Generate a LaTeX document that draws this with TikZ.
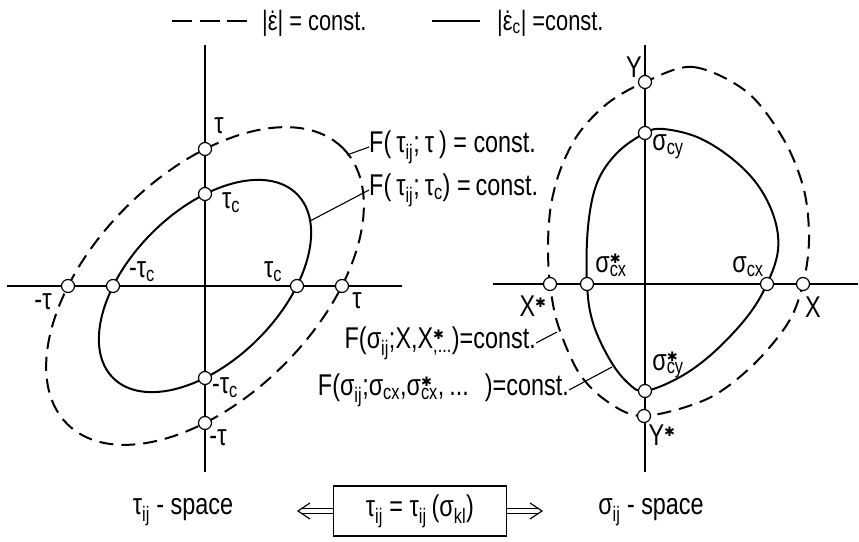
\documentclass[tikz,border=0pt]{standalone}
\usepackage{fontspec}
\setmainfont{Liberation Sans}[FakeStretch=0.78]
\newfontfamily\djv{DejaVu Sans}
\usetikzlibrary{arrows.meta}
\newcommand\ssc[2]{\makebox[0pt][l]{\textsuperscript{#1}}\textsubscript{#2}}
\newcommand\st{{\djv\fontsize{13}{13}\selectfont ✱}}
\newcommand\dotover[1]{\leavevmode\ooalign{#1\cr\hidewidth\smash{\raisebox{0.58em}{\fontsize{24}{24}\selectfont .}}\hidewidth\cr}}
\begin{document}
\begin{tikzpicture}[x=1pt,y=-1pt,
  axis/.style={line width=1.1pt},
  curve/.style={line width=2pt},
  dcurve/.style={line width=2pt, dash pattern=on 14pt off 8pt},
  pt/.style={circle, draw, fill=white, line width=1.2pt, minimum size=13pt, inner sep=0pt},
  lbl/.style={font=\fontsize{30}{34}\selectfont, inner sep=0pt},
  leader/.style={line width=1.1pt},
  arr/.style={line width=1.2pt, line join=miter}]
\useasboundingbox (0,0) rectangle (859,541);
% legend
\coordinate (d1) at (172,21); \coordinate (d2) at (247,21);
\draw[line width=2pt, dash pattern=on 20pt off 7.5pt] (d1) -- (d2);
\node[lbl, anchor=west, font=\fontsize{28}{32}\selectfont] (leg1) at (262,23) {|\dotover{ε}| = const.};
\coordinate (s1) at (432,21); \coordinate (s2) at (480,21);
\draw[line width=2pt] (s1) -- (s2);
\node[lbl, anchor=west, font=\fontsize{28}{32}\selectfont] (leg2) at (497,23) {|\dotover{ε}\textsubscript{c}| =const.};
% ---------- left diagram ----------
\coordinate (O1) at (205,286);
\coordinate (a1t) at (205,45); \coordinate (a1b) at (205,472);
\coordinate (a1l) at (7,286); \coordinate (a1r) at (402,286);
\draw[axis] (a1t) -- (a1b);
\draw[axis] (a1l) -- (a1r);
\draw[dcurve, rotate around={45:(O1)}] (O1) ellipse [x radius=195pt, y radius=111.5pt];
\draw[curve, rotate around={45:(O1)}] (O1) ellipse [x radius=130pt, y radius=75pt];
\coordinate (c1) at (347,155);
\coordinate (c2) at (310,221);
\node[lbl, anchor=west] (F1) at (369,147) {F(\,τ\textsubscript{ij};\,τ\,) = const.};
\node[lbl, anchor=west] (F2) at (369,190) {F(\,τ\textsubscript{ij};\,τ\textsubscript{c}) =\,const.};
\draw[leader] (c1) -- (F1.west);
\draw[leader] (c2) -- (F2.west);
\node[pt] (p1) at (205,149) {};
\node[pt] (p2) at (205,194) {};
\node[pt] (p3) at (68,286) {};
\node[pt] (p4) at (113,286) {};
\node[pt] (p5) at (297,286) {};
\node[pt] (p6) at (342,286) {};
\node[pt] (p7) at (205,378) {};
\node[pt] (p8) at (205,423) {};
\node[lbl] (lt) at (219,126) {τ};
\node[lbl] (ltc) at (231,203) {τ\textsubscript{c}};
\node[lbl] (lmtc) at (142,272) {-τ\textsubscript{c}};
\node[lbl] (lrtc) at (273,272) {τ\textsubscript{c}};
\node[lbl] (lrt) at (357,301) {τ};
\node[lbl] (llt) at (43,302) {-τ};
\node[lbl] (lbtc) at (225,388) {-τ\textsubscript{c}};
\node[lbl] (lbt) at (218,438) {-τ};
% ---------- right diagram ----------
\coordinate (a2t) at (645,45); \coordinate (a2b) at (645,472);
\coordinate (a2l) at (493,284); \coordinate (a2r) at (858,284);
\draw[axis] (a2t) -- (a2b);
\draw[axis] (a2l) -- (a2r);
\draw[dcurve] plot[smooth cycle, tension=0.55] coordinates {
 (645,82) (693,67) (747,92) (784,140) (804,190) (809,240) (803,284)
 (788,323) (752,366) (707,399) (644,416) (608,402) (579,373) (558,325)
 (550,284) (548,245) (551,205) (561,168) (579,133) (608,103)};
\draw[curve] plot[smooth cycle, tension=0.6] coordinates {
 (645,133) (663,129) (697,137) (730,157) (757,184) (774,217) (778,250)
 (767,284) (747,317) (713,353) (680,377) (645,391) (628,383) (610,360)
 (593,323) (587,284) (588,227) (597,183) (617,153)};
\coordinate (c3) at (557,332);
\coordinate (c4) at (612,367);
\node[lbl, anchor=east] (F3) at (536,343) {F(σ\textsubscript{ij};X,X\ssc{\st}{,...})=const.};
\node[lbl, anchor=east] (F4) at (569,390) {F(σ\textsubscript{ij};σ\textsubscript{cx},σ\ssc{\st}{cx},\,...\hspace{16pt})=const.};
\draw[leader] (F3.east) -- (c3);
\draw[leader] (F4.east) -- (c4);
\node[pt] (q1) at (645,82) {};
\node[pt] (q2) at (645,133) {};
\node[pt] (q3) at (550,284) {};
\node[pt] (q4) at (587,284) {};
\node[pt] (q5) at (767,284) {};
\node[pt] (q6) at (803,284) {};
\node[pt] (q7) at (645,391) {};
\node[pt] (q8) at (644,416) {};
\node[lbl] (rY) at (634,67) {Y};
\node[lbl] (rscy) at (668,147) {σ\textsubscript{cy}};
\node[lbl] (rscxs) at (611,265) {σ\ssc{\st}{cx}};
\node[lbl] (rscx) at (748,267) {σ\textsubscript{cx}};
\node[lbl] (rXs) at (533,306) {X\textsuperscript{\st}};
\node[lbl] (rX) at (813,307) {X};
\node[lbl] (rscys) at (668,365) {σ\ssc{\st}{cy}};
\node[lbl] (rYs) at (662,435) {Y\textsuperscript{\st}};
% ---------- bottom ----------
\node[lbl] (tsp) at (183,512) {τ\textsubscript{ij} - space};
\node[lbl, draw, line width=1.6pt, minimum width=173pt, minimum height=50pt] (box) at (420,511) {τ\textsubscript{ij} = τ\textsubscript{ij}\,(σ\textsubscript{kl})};
\node[lbl] (ssp) at (651,512) {σ\textsubscript{ij} - space};
\coordinate (la) at (298,511);
\coordinate (ra) at (542,511);
% left double arrow
\draw[arr] ([yshift=2.6pt]box.west) -- ([xshift=4pt,yshift=2.6pt]la);
\draw[arr] ([yshift=-2.6pt]box.west) -- ([xshift=4pt,yshift=-2.6pt]la);
\draw[arr] (la) ++(12,-8) -- (la) -- ++(12,8);
% right double arrow
\draw[arr] ([yshift=2.6pt]box.east) -- ([xshift=-4pt,yshift=2.6pt]ra);
\draw[arr] ([yshift=-2.6pt]box.east) -- ([xshift=-4pt,yshift=-2.6pt]ra);
\draw[arr] (ra) ++(-12,-8) -- (ra) -- ++(-12,8);
\end{tikzpicture}
\end{document}
